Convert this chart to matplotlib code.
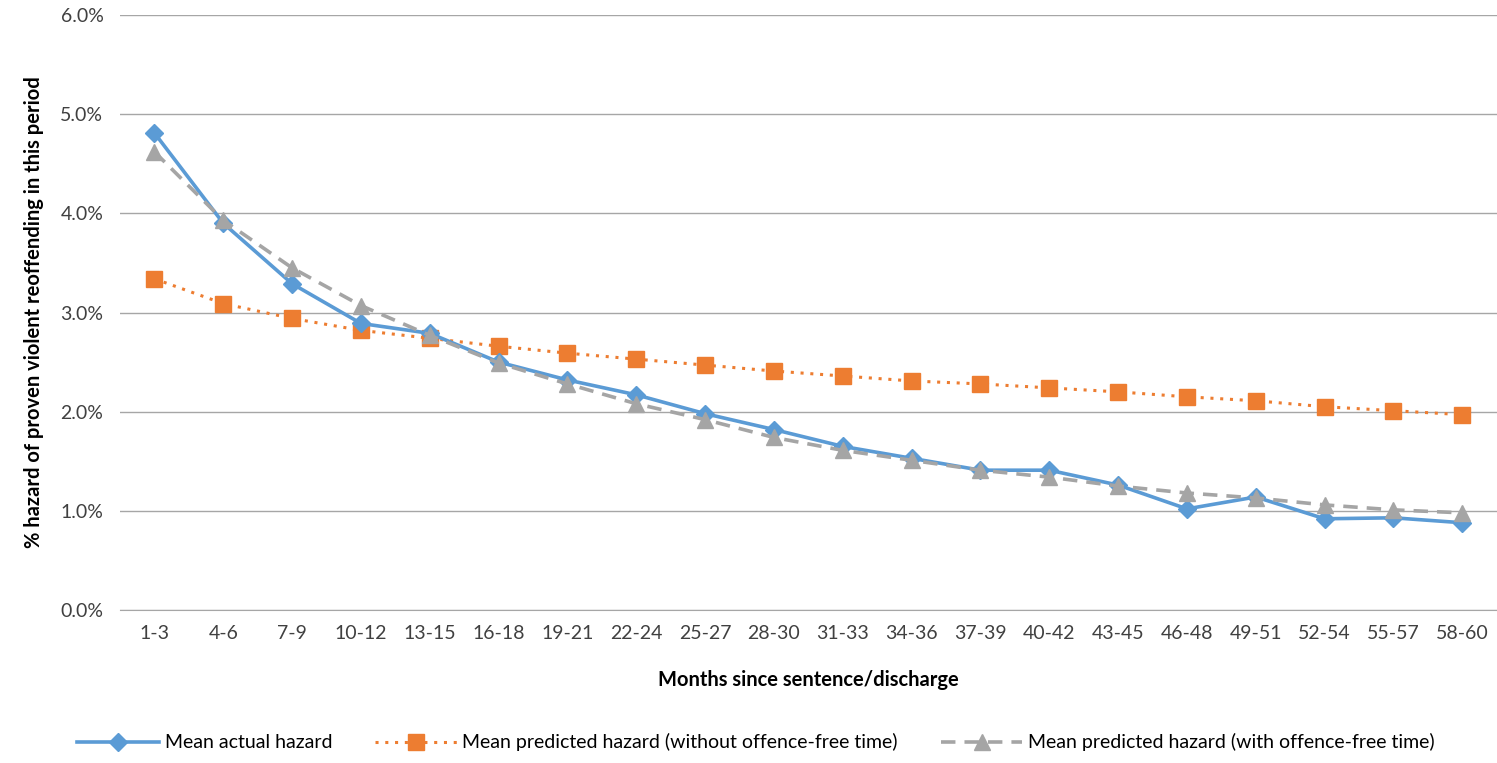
import matplotlib
matplotlib.use("Agg")
import matplotlib.pyplot as plt
from matplotlib.ticker import FuncFormatter, MultipleLocator

plt.rcParams['font.family'] = ['Lato', 'DejaVu Sans']

categories = ["1-3", "4-6", "7-9", "10-12", "13-15", "16-18", "19-21", "22-24", "25-27", "28-30",
              "31-33", "34-36", "37-39", "40-42", "43-45", "46-48", "49-51", "52-54", "55-57", "58-60"]
actual = [4.81, 3.90, 3.29, 2.89, 2.79, 2.50, 2.32, 2.17, 1.98, 1.82,
          1.65, 1.53, 1.41, 1.41, 1.26, 1.02, 1.14, 0.92, 0.93, 0.88]
pred_without = [3.34, 3.09, 2.94, 2.82, 2.74, 2.66, 2.59, 2.53, 2.47, 2.41,
                2.36, 2.31, 2.28, 2.24, 2.20, 2.15, 2.11, 2.05, 2.01, 1.97]
pred_with = [4.62, 3.93, 3.45, 3.07, 2.77, 2.49, 2.28, 2.08, 1.92, 1.74,
             1.61, 1.51, 1.41, 1.34, 1.25, 1.18, 1.13, 1.06, 1.01, 0.98]

fig = plt.figure(figsize=(14.97, 7.63), dpi=100)
ax = fig.add_axes([0.0802, 0.2005, 0.9196, 0.7798])

x = list(range(len(categories)))
ax.plot(x, actual, color='#5B9BD5', lw=2.6, marker='D', ms=9, label='Mean actual hazard', zorder=3)
ax.plot(x, pred_without, color='#ED7D31', lw=2.2, ls=(0, (1, 2.2)), marker='s', ms=12,
        label='Mean predicted hazard (without offence-free time)', zorder=2)
ax.plot(x, pred_with, color='#A5A5A5', lw=2.6, ls=(0, (4, 2.5)), marker='^', ms=11,
        label='Mean predicted hazard (with offence-free time)', zorder=4)

ax.set_xlim(-0.5, len(categories) - 0.5)
ax.set_ylim(0, 6)
ax.yaxis.set_major_locator(MultipleLocator(1))
ax.yaxis.set_major_formatter(FuncFormatter(lambda v, p: f"{v:.1f}%"))
ax.set_xticks(x)
ax.set_xticklabels(categories)
ax.grid(axis='y', color='#A6A6A6', lw=1)
ax.set_axisbelow(True)
for s in ['top', 'right', 'left']:
    ax.spines[s].set_visible(False)
ax.spines['bottom'].set_color('#A6A6A6')
ax.tick_params(axis='both', length=0, labelsize=14, colors='#404040', pad=11)
ax.tick_params(axis='y', pad=12)

ax.set_xlabel('Months since sentence/discharge', fontsize=14.5, fontweight='bold', labelpad=20)
ax.set_ylabel('% hazard of proven violent reoffending in this period', fontsize=14.5, fontweight='bold', labelpad=12)

fig.legend(loc='center', bbox_to_anchor=(0.505, 0.027), ncol=3, frameon=False, fontsize=14,
           handlelength=4.2, columnspacing=2.2, handletextpad=0.3)

fig.savefig('out.png', dpi=100)
